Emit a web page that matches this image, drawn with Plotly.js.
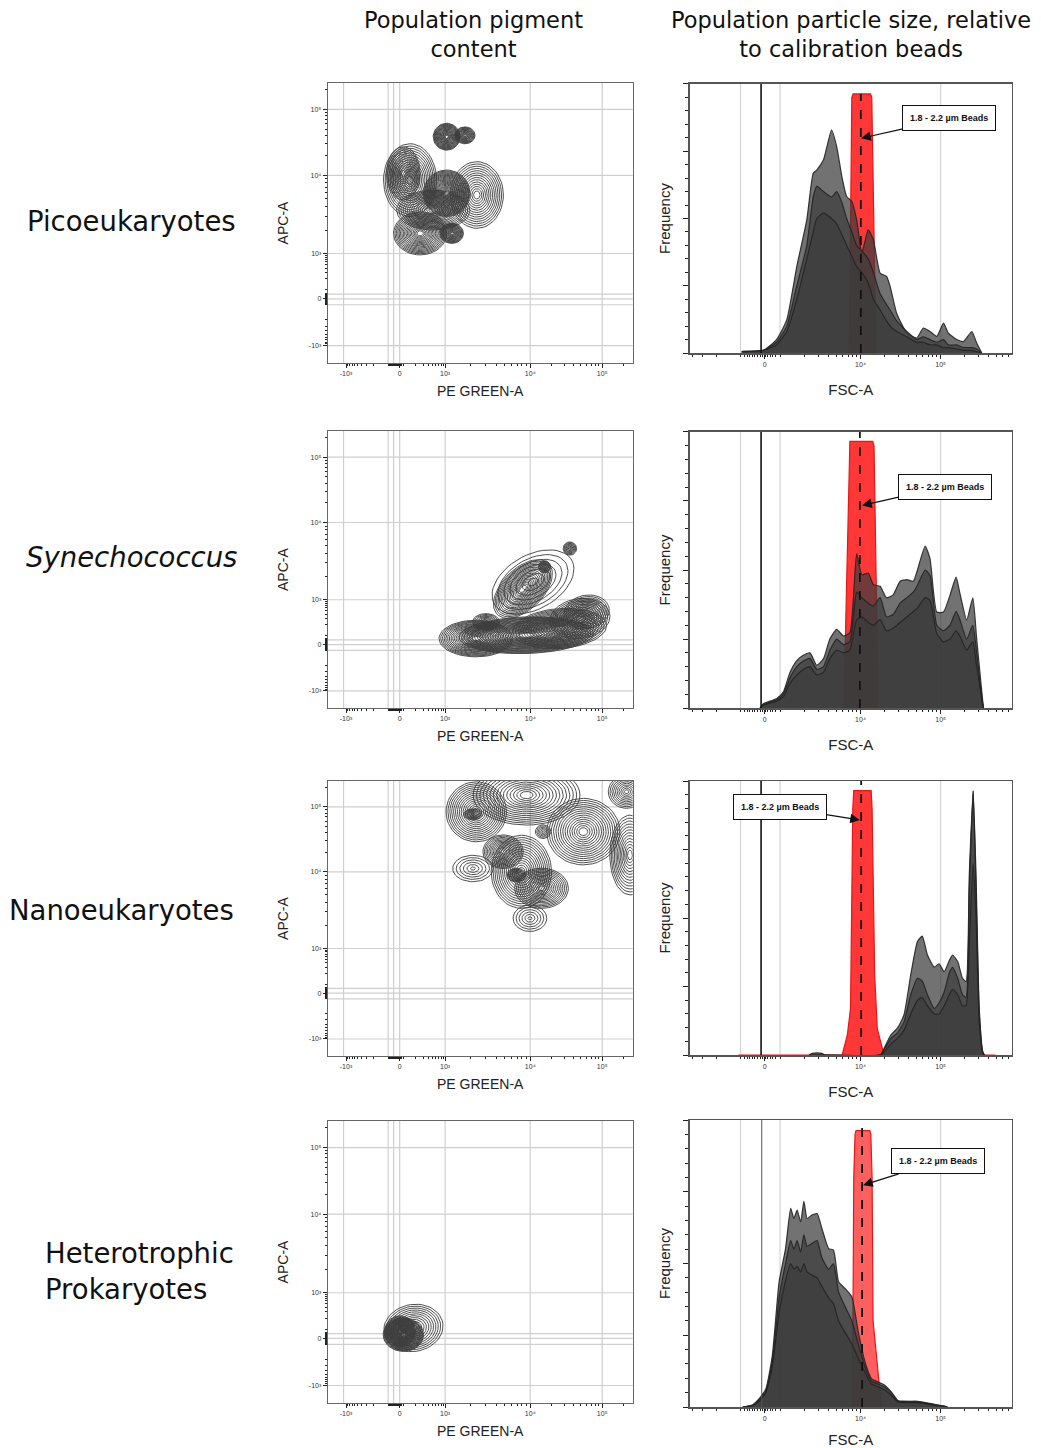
<!DOCTYPE html>
<html><head><meta charset="utf-8">
<script src="https://cdn.plot.ly/plotly-3.0.1.min.js"></script>
<style>body{margin:0;background:#fff}#chart{width:1041px;height:1448px}</style>
</head><body><div id="chart"></div>
<script>
// ================= DATA =================
const rowLabels = ['Picoeukaryotes', '<i>Synechococcus</i>', 'Nanoeukaryotes', 'Heterotrophic<br>Prokaryotes'];
const colHeaders = ['Population pigment<br>content', 'Population particle size, relative<br>to calibration beads'];
const beadLabel = '<b>1.8 - 2.2 µm Beads</b>';

// Biexponential display axes (channel units 0-1000 across the frame)
const pgTickVals = [60, 236, 385, 664, 900];
const pgTickText = ['-10³', '0', '10³', '10⁴', '10⁵'];
const pgGrid = [52, 198, 216, 236, 385, 664, 900];
const apcTickVals = [62, 229, 391, 670, 906];
const apcTickText = ['-10³', '0', '10³', '10⁴', '10⁵'];
const apcGrid = [62, 208, 229, 246, 391, 670, 906];
const fscLabelVals = [232, 530, 779];
const fscLabelText = ['0', '10⁴', '10⁵'];
const fscMajorVals = [157, 280];
const fscGrid = [157, 280, 779];

// ---- Contour populations (left column): centre, radii (channel units), ring count, tilt (deg)
const picoCx = [390, 450, 270, 489, 390, 303, 407, 248, 346];
const picoCy = [808, 813, 653, 600, 606, 463, 463, 677, 546];
const picoRx = [44, 33, 87, 87, 76, 87, 38, 55, 120];
const picoRy = [48, 30, 130, 119, 83, 77, 36, 95, 71];
const picoRings = [20, 14, 15, 14, 24, 18, 16, 14, 16];
const picoTilt = [0, 0, 0, 0, 0, 0, 0, 0, 0];

const synCx = [486, 651, 761, 827, 640, 711, 794, 673, 519, 849];
const synCy = [251, 263, 287, 323, 430, 510, 576, 455, 311, 347];
const synRx = [121, 220, 154, 99, 125, 20, 22, 150, 44, 75];
const synRy = [66, 66, 72, 72, 70, 22, 24, 95, 30, 60];
const synRings = [20, 24, 17, 13, 18, 9, 9, 7, 9, 11];
const synTilt = [0, 2, 5, 10, 50, 0, 0, 35, 0, 15];

const nanoCx = [487, 575, 635, 701, 663, 838, 476, 652, 991, 980, 706, 619, 476];
const nanoCy = [888, 743, 670, 610, 501, 816, 682, 949, 731, 961, 816, 658, 879];
const nanoRx = [99, 66, 99, 88, 55, 120, 66, 175, 66, 60, 25, 30, 30];
const nanoRy = [109, 61, 133, 73, 48, 121, 48, 109, 145, 60, 25, 25, 20];
const nanoRings = [15, 13, 15, 14, 6, 15, 6, 15, 13, 10, 6, 10, 8];
const nanoTilt = [0, 0, 0, 0, 0, 0, 0, 0, 0, 0, 0, 0, 0];

const hetCx = [248, 281, 237];
const hetCy = [242, 266, 254];
const hetRx = [66, 98, 50];
const hetRy = [59, 83, 55];
const hetRings = [24, 12, 18];
const hetTilt = [0, 15, 0];

// ---- FSC-A histograms (right column): x in channel units, frequency in % of full scale
const picoFsc = [161, 228, 269, 301, 332, 363, 383, 394, 415, 440, 456, 472, 487, 503, 518, 534, 554, 570, 591, 611, 622, 642, 674, 705, 725, 746, 767, 788, 803, 829, 850, 876, 891, 907];
const picoFreqA = [0.6, 1.0, 5.0, 12.4, 32.2, 49.5, 66.8, 68, 71.8, 82.9, 76.7, 65.6, 58.2, 56.3, 49.5, 37.1, 45.8, 42.1, 29.7, 28.5, 24.8, 14.9, 7.4, 5.6, 9.3, 8.0, 6.2, 11.1, 7.4, 5.0, 4.3, 8.0, 3.7, 0];
const picoFreqB = [0.5, 1, 4, 10, 25, 40, 58, 62, 60, 58, 60, 56, 50, 45, 40, 38, 35, 30, 22, 18, 16, 12, 8, 5, 6, 5, 4, 5, 3, 3, 2, 2, 1.5, 0];
const picoFreqC = [0.5, 1, 3, 8, 20, 35, 45, 50, 52, 50, 48, 44, 40, 36, 32, 30, 26, 20, 16, 12, 10, 8, 6, 4, 4, 3, 3, 2, 2, 1.5, 1, 1, 0.5, 0];
const picoBeadX = [495, 503, 507, 561, 565, 578];
const picoBeadY = [0, 95, 96.3, 96.3, 95, 0];

const synFsc = [218, 228, 269, 290, 311, 332, 352, 373, 394, 415, 435, 456, 477, 497, 518, 534, 554, 570, 591, 611, 632, 653, 674, 694, 705, 731, 746, 767, 788, 808, 827, 839, 860, 879, 891, 907, 912];
const synFreqA = [0, 1.6, 3.4, 5.8, 13.0, 17.2, 19.1, 20.0, 15.5, 17.9, 25.1, 28.5, 26.1, 27.3, 55.9, 48.3, 48.9, 44.7, 44.1, 39.9, 41.1, 45.9, 46.5, 45.9, 49.3, 58.7, 54.1, 34.8, 34.8, 40.8, 47.4, 41.5, 31.9, 39.9, 25.1, 5.8, 0];
const synFreqB = [0, 1.2, 3, 5, 11, 15, 17, 18, 14, 15, 21, 25, 23, 24, 42, 40, 38, 37, 40, 33, 34, 38, 40, 42, 44, 50, 48, 30, 28, 30, 35, 32, 25, 30, 20, 4, 0];
const synFreqC = [0, 1, 2.5, 4, 9, 12, 14, 15, 12, 13, 18, 21, 20, 21, 32, 33, 31, 30, 32, 28, 29, 31, 33, 35, 36, 40, 39, 27, 24, 25, 28, 26, 21, 24, 15, 3, 0];
const synBeadX = [478, 495, 497, 568, 572, 585];
const synBeadY = [0, 95, 96.6, 96.6, 95, 0];

const nanoFsc = [370, 380, 395, 410, 420, 593, 603, 624, 644, 665, 686, 707, 722, 738, 759, 774, 790, 806, 816, 832, 847, 858, 868, 880, 889, 899, 910, 915];
const nanoFreqA = [0, 0.6, 0.8, 0.6, 0, 0.2, 2.4, 7.3, 9.7, 14.6, 29.2, 41.4, 43.4, 36.5, 32.1, 33.3, 30.4, 34.5, 36.5, 34.1, 28.0, 26.8, 65.7, 96.4, 65.7, 17.0, 1.2, 0];
const nanoFreqB = [0, 0, 0, 0, 0, 0.1, 2, 6, 8, 12, 22, 28, 27, 22, 17, 19, 23, 30, 32, 28, 22, 21, 60, 96.4, 60, 15, 1, 0];
const nanoFreqC = [0, 0, 0, 0, 0, 0, 1, 4, 6, 9, 15, 20, 21, 18, 15, 15, 18, 22, 24, 22, 18, 18, 40, 70, 50, 12, 0.5, 0];
const nanoBeadX = [150, 473, 489, 499, 506, 509, 563, 566, 574, 582, 603, 950];
const nanoBeadY = [0, 0, 7.3, 17, 90, 96.5, 96.5, 90, 29.2, 9.7, 0, 0];

const hetFsc = [164, 195, 215, 236, 256, 277, 297, 313, 323, 333, 344, 354, 364, 379, 395, 410, 431, 446, 462, 482, 503, 523, 544, 564, 585, 605, 626, 646, 667, 708, 749, 790, 800];
const hetFreqA = [0, 0.8, 2.9, 6.4, 18.0, 43.6, 55.2, 69.2, 65.7, 68.6, 64.5, 71.7, 65.7, 66.9, 67.4, 62.2, 55.2, 54.7, 43.6, 41.3, 38.4, 26.2, 15.7, 9.9, 8.7, 7.6, 5.2, 2.3, 2.0, 2.0, 1.2, 0.3, 0];
const hetFreqB = [0, 0.6, 2.5, 5.5, 16, 38, 50, 58, 55, 58, 54, 60, 56, 57, 58, 52, 48, 50, 40, 35, 30, 22, 14, 9, 8, 7, 5, 2, 2, 1.8, 1, 0.2, 0];
const hetFreqC = [0, 0.5, 2, 5, 14, 33, 44, 50, 48, 49, 47, 50, 47, 46, 45, 42, 38, 36, 30, 26, 22, 17, 12, 8, 7, 6, 4, 1.8, 1.5, 1.5, 0.8, 0.2, 0];
const hetBeadX = [180, 505, 509, 513, 516, 559, 562, 566, 569, 585, 595, 800];
const hetBeadY = [0, 0, 80, 95, 96.3, 96.3, 95, 80, 30, 10, 0, 0];

// bead marker line, zero line and label placement per row
const beadCentre = [531, 528, 532, 535];
const beadLineTop = [96.3, 100, 100, 100];
const fscZeroLine = [221, 221, 221, 223];
const beadBoxX = [806, 793, 279, 771];
const beadBoxY = [87.3, 80.2, 90.5, 85.6];
const beadTipX = [532, 535, 528, 538];
const beadTipY = [79.8, 73.4, 85.8, 77.3];

// ================= BUILD =================
const populations = [
  {cx: picoCx, cy: picoCy, rx: picoRx, ry: picoRy, n: picoRings, t: picoTilt},
  {cx: synCx, cy: synCy, rx: synRx, ry: synRy, n: synRings, t: synTilt},
  {cx: nanoCx, cy: nanoCy, rx: nanoRx, ry: nanoRy, n: nanoRings, t: nanoTilt},
  {cx: hetCx, cy: hetCy, rx: hetRx, ry: hetRy, n: hetRings, t: hetTilt}
];
const hists = [
  {x: picoFsc, a: picoFreqA, b: picoFreqB, c: picoFreqC, bx: picoBeadX, by: picoBeadY},
  {x: synFsc, a: synFreqA, b: synFreqB, c: synFreqC, bx: synBeadX, by: synBeadY},
  {x: nanoFsc, a: nanoFreqA, b: nanoFreqB, c: nanoFreqC, bx: nanoBeadX, by: nanoBeadY},
  {x: hetFsc, a: hetFreqA, b: hetFreqB, c: hetFreqC, bx: hetBeadX, by: hetBeadY}
];

function logRun(a, b, lo, hi) {
  const out = [];
  for (let m = 2; m <= 9; m++) {
    const p = a + (b - a) * Math.log10(m);
    if (p >= lo && p <= hi) out.push(p);
  }
  return out;
}
function denseRun(a, b, step) { const o = []; for (let p = a; p <= b; p += step) o.push(p); return o; }

const pgMinor = [].concat(logRun(190, 60, 0, 1000), denseRun(198, 244, 3), [248], logRun(248, 385, 0, 1000), logRun(385, 664, 0, 1000), logRun(664, 900, 0, 1000), logRun(900, 1136, 0, 1000));
const apcMinor = [].concat(logRun(195, 62, 0, 1000), denseRun(208, 250, 3), [261], logRun(261, 391, 0, 1000), logRun(391, 670, 0, 1000), logRun(670, 906, 0, 1000), logRun(906, 1142, 0, 1000));
const fscMinor = [].concat(logRun(157, -92, 0, 1000), denseRun(170, 270, 8), logRun(280, 530, 0, 1000), logRun(530, 779, 0, 1000), logRun(779, 1028, 0, 1000));

function ringTrace(p, ax) {
  const xs = [], ys = [];
  for (let i = 0; i < p.cx.length; i++) {
    const n = p.n[i], A = p.t[i] * Math.PI / 180;
    for (let k = 0; k < n; k++) {
      const s = n > 1 ? 0.12 + 0.88 * k / (n - 1) : 1;
      for (let j = 0; j <= 48; j++) {
        const th = 2 * Math.PI * j / 48;
        const u = p.rx[i] * s * Math.cos(th), v = p.ry[i] * s * Math.sin(th);
        xs.push(p.cx[i] + u * Math.cos(A) - v * Math.sin(A));
        ys.push(p.cy[i] + u * Math.sin(A) + v * Math.cos(A));
      }
      xs.push(null); ys.push(null);
    }
  }
  return {type: 'scatter', mode: 'lines', x: xs, y: ys, xaxis: 'x' + ax, yaxis: 'y' + ax,
    line: {color: 'rgba(60,60,60,0.9)', width: 1}, hoverinfo: 'skip', connectgaps: false};
}

const leftX = [0.3148, 0.6078], rightX = [0.6628, 0.9719];
const leftY = [[0.7493, 0.9427], [0.5110, 0.7023], [0.2707, 0.4606], [0.0311, 0.2258]];
const rightY = [[0.7562, 0.9420], [0.5110, 0.7017], [0.2714, 0.4606], [0.0283, 0.2265]];

const FONT = 'Liberation Sans, Arial, sans-serif';
const data = [];
const layout = {
  width: 1041, height: 1448, margin: {l: 0, r: 0, t: 0, b: 0},
  paper_bgcolor: '#ffffff', plot_bgcolor: '#ffffff', showlegend: false,
  font: {family: FONT, color: '#222'},
  annotations: [], shapes: []
};

for (let r = 0; r < 4; r++) {
  const li = 2 * r + 1, ri = 2 * r + 2;
  const ln = li === 1 ? '' : li, rn = ri;
  const lx = 'x' + ln, ly = 'y' + ln;
  // left contour
  data.push(ringTrace(populations[r], ln));
  layout['xaxis' + ln] = {
    domain: leftX, range: [0, 1000], anchor: ly, zeroline: false,
    tickmode: 'array', tickvals: pgTickVals, ticktext: pgTickText,
    tickfont: {size: 7, color: '#333'}, ticks: 'outside', ticklen: 4, tickcolor: '#222',
    showgrid: false,
    minor: {tickmode: 'array', tickvals: pgMinor, ticks: 'outside', ticklen: 2, tickcolor: '#222', showgrid: false},
    showline: true, linecolor: '#666', linewidth: 1, mirror: true,
    title: {text: 'PE GREEN-A', font: {size: 14, color: '#222'}, standoff: 9}
  };
  layout['yaxis' + ln] = {
    domain: leftY[r], range: [0, 1000], anchor: lx, zeroline: false,
    tickmode: 'array', tickvals: apcTickVals, ticktext: apcTickText,
    tickfont: {size: 7, color: '#333'}, ticks: 'outside', ticklen: 4, tickcolor: '#222',
    showgrid: false,
    minor: {tickmode: 'array', tickvals: apcMinor, ticks: 'outside', ticklen: 2, tickcolor: '#222', showgrid: false},
    showline: true, linecolor: '#666', linewidth: 1, mirror: true,
    title: {text: 'APC-A', font: {size: 14, color: '#222'}, standoff: 16}
  };
  pgGrid.forEach(function (g) {
    layout.shapes.push({type: 'line', xref: lx, yref: ly + ' domain', x0: g, x1: g, y0: 0, y1: 1,
      line: {color: '#cfcfcf', width: 1.2}, layer: 'below'});
  });
  apcGrid.forEach(function (g) {
    layout.shapes.push({type: 'line', xref: lx + ' domain', yref: ly, x0: 0, x1: 1, y0: g, y1: g,
      line: {color: '#cfcfcf', width: 1.2}, layer: 'below'});
  });

  // right histogram
  const h = hists[r];
  const ax = 'x' + rn, ay = 'y' + rn;
  const red = r === 3 ? 'rgba(255,60,60,0.82)' : 'rgba(255,20,20,0.85)';
  data.push({type: 'scatter', mode: 'lines', x: h.bx, y: h.by, xaxis: ax, yaxis: ay, fill: 'tozeroy',
    fillcolor: red, line: {color: 'rgb(235,20,20)', width: 1.2}, hoverinfo: 'skip'});
  [h.a, h.b, h.c].forEach(function (yy) {
    data.push({type: 'scatter', mode: 'lines', x: h.x, y: yy, xaxis: ax, yaxis: ay, fill: 'tozeroy',
      fillcolor: 'rgba(60,60,60,0.72)', line: {color: 'rgba(35,35,35,0.9)', width: 1.2, shape: 'spline', smoothing: 0.5},
      hoverinfo: 'skip'});
  });
  data.push({type: 'scatter', mode: 'lines', x: [fscZeroLine[r], fscZeroLine[r]], y: [0, 100], xaxis: ax, yaxis: ay,
    line: {color: r === 3 ? '#555' : '#111', width: r === 3 ? 1 : 1.6}, hoverinfo: 'skip'});
  data.push({type: 'scatter', mode: 'lines', x: [beadCentre[r], beadCentre[r]], y: [0, beadLineTop[r]], xaxis: ax, yaxis: ay,
    line: {color: '#111', width: 1.8, dash: 'dash'}, hoverinfo: 'skip'});

  layout['xaxis' + rn] = {
    domain: rightX, range: [0, 1000], anchor: ay, zeroline: false,
    tickmode: 'array', tickvals: fscLabelVals, ticktext: fscLabelText,
    tickfont: {size: 7, color: '#333'}, ticks: 'outside', ticklen: 4, tickcolor: '#222',
    showgrid: false,
    minor: {tickmode: 'array', tickvals: fscMinor.concat(fscMajorVals), ticks: 'outside', ticklen: 2, tickcolor: '#222', showgrid: false},
    showline: true, linecolor: '#555', linewidth: 1.5, mirror: true,
    title: {text: 'FSC-A', font: {size: 15, color: '#222'}, standoff: 17}
  };
  layout['yaxis' + rn] = {
    domain: rightY[r], range: [0, 100], anchor: ax, zeroline: false,
    tickmode: 'linear', tick0: 0, dtick: 25, showticklabels: false,
    ticks: 'outside', ticklen: 5, tickcolor: '#222', showgrid: false,
    minor: {dtick: 5, ticks: 'outside', ticklen: 3, tickcolor: '#222', showgrid: false},
    showline: true, linecolor: '#555', linewidth: 1.5, mirror: true,
    title: {text: 'Frequency', font: {size: 15, color: '#222'}, standoff: 9}
  };
  fscGrid.forEach(function (g) {
    layout.shapes.push({type: 'line', xref: ax, yref: ay + ' domain', x0: g, x1: g, y0: 0, y1: 1,
      line: {color: '#d4d4d4', width: 1.2}, layer: 'below'});
  });
  layout.annotations.push({
    xref: ax, yref: ay, axref: ax, ayref: ay, x: beadTipX[r], y: beadTipY[r], ax: beadBoxX[r], ay: beadBoxY[r],
    text: beadLabel, showarrow: true, arrowhead: 2, arrowsize: 1.6, arrowwidth: 1.2, arrowcolor: '#111',
    font: {size: 9, color: '#111', family: FONT}, bgcolor: '#fff', bordercolor: '#111', borderwidth: 1,
    borderpad: 7, standoff: 0
  });
}

// headers
const headerX = [473, 851];
for (let c = 0; c < 2; c++) {
  layout.annotations.push({xref: 'paper', yref: 'paper', x: headerX[c] / 1041, y: 1 - 34 / 1448,
    xanchor: 'center', yanchor: 'middle', showarrow: false, align: 'center',
    text: colHeaders[c], font: {size: 22.5, family: 'DejaVu Sans, Verdana, sans-serif', color: '#111'}});
}
// row labels
const rowLabelX = [131, 131, 121, 43];
const rowLabelY = [221, 557, 910, 1271];
for (let r = 0; r < 4; r++) {
  layout.annotations.push({xref: 'paper', yref: 'paper', x: rowLabelX[r] / 1041, y: 1 - rowLabelY[r] / 1448,
    xanchor: r === 3 ? 'left' : 'center', yanchor: 'middle', showarrow: false, align: 'left',
    text: rowLabels[r], font: {size: 27.5, family: 'DejaVu Sans, Verdana, sans-serif', color: '#111'}});
}

Plotly.newPlot('chart', data, layout, {staticPlot: true});
</script>
</body></html>
